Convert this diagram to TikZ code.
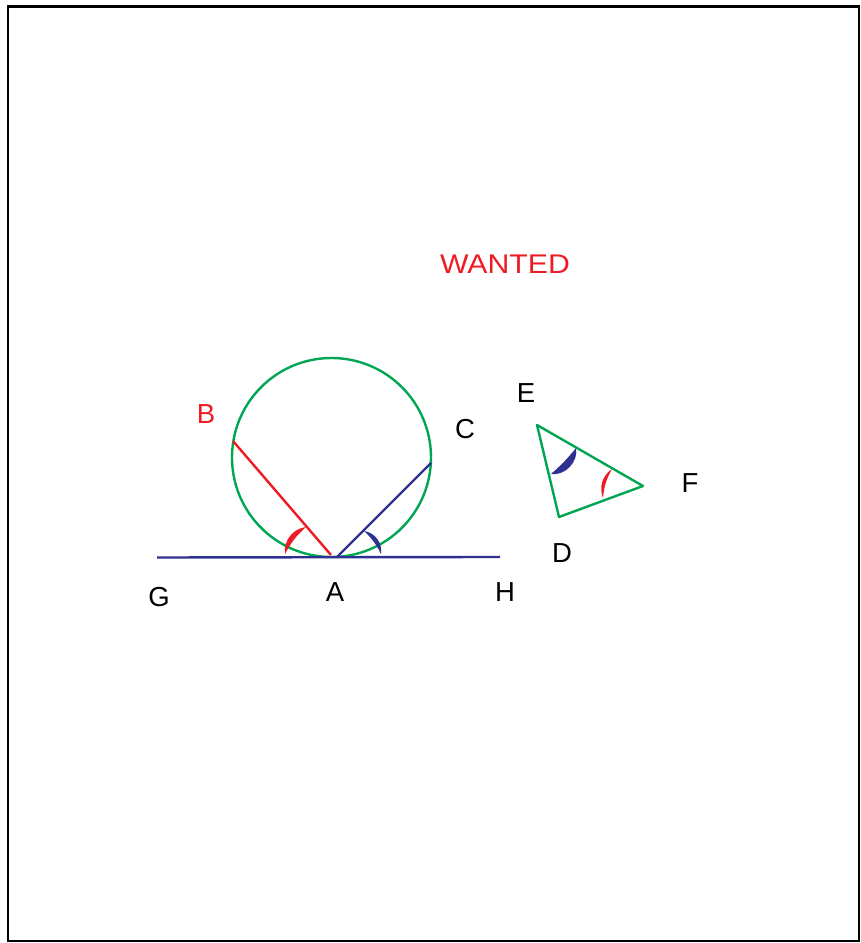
\documentclass[tikz,border=0pt]{standalone}
\usepackage{fontspec}
\setmainfont{Liberation Sans}
\usepackage{tikz}
\usetikzlibrary{calc}
\usepackage{xcolor}
\definecolor{grn}{RGB}{0,166,81}
\definecolor{rd}{RGB}{237,28,36}
\definecolor{blu}{RGB}{46,49,146}

\begin{document}
\begin{tikzpicture}[x=1pt,y=1pt,
  ln/.style={line width=2.4pt},
  grnln/.style={ln,grn}, rdln/.style={ln,rd}, bluln/.style={ln,blu},
  lbl/.style={inner sep=0pt,font=\fontsize{27.5}{30}\selectfont}]
\useasboundingbox (0,0) rectangle (860,943);
\draw[line width=2.2pt] (7.7,2) rectangle (858.7,936.5);

\node[lbl,rd,font=\fontsize{27}{30}\selectfont,xscale=1.12,transform shape] (wanted) at (505,679) {WANTED};

% circle touching the line GH at A
\coordinate (O) at (331.5,485.5);
\coordinate (A) at (333,386);
\coordinate (Ar) at (331,388);
\coordinate (Ab) at (337,386);
\coordinate (B) at (233,502);
\coordinate (C) at (431,480);
\coordinate (G) at (157,385.5);
\coordinate (H) at (500,386);
\draw[grnln] (O) circle (99.5);
\draw[bluln] (G) -- (H);
\draw[rdln] (B) -- (Ar);
\draw[bluln] (Ab) -- (C);
% angle marks at A
\fill[rd] (306,416) to[bend right=45] (285,389) to[bend left=10] cycle;
\fill[blu] (364,412) to[bend left=45] (381,389) to[bend right=10] cycle;

% triangle DEF
\coordinate (E) at (537,518);
\coordinate (F) at (643,457);
\coordinate (D) at (559,426);
\draw[grnln,line join=round] (E) -- (F) -- (D) -- cycle;
\fill[blu] (551,469) to[bend right=55] (576,495) to[bend left=5] cycle;
\fill[rd] (612,474) to[bend right=38] (603,445) to[bend left=12] cycle;

% labels
\node[lbl,rd] (labB) at (206,529) {B};
\node[lbl] (labC) at (465,514) {C};
\node[lbl] (labG) at (159,346) {G};
\node[lbl] (labA) at (335,351) {A};
\node[lbl] (labH) at (505,351) {H};
\node[lbl] (labE) at (526,550) {E};
\node[lbl] (labF) at (690,460) {F};
\node[lbl] (labD) at (562,390) {D};
\end{tikzpicture}
\end{document}
